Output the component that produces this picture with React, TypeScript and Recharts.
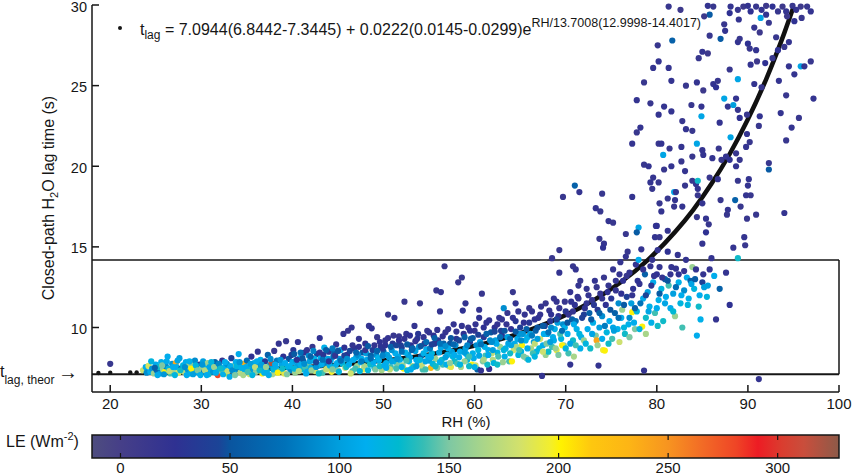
import React from "react";
import { ComposedChart, Scatter, Line, XAxis, YAxis, ReferenceLine } from "recharts";

const FONT = "'Liberation Sans', Arial, Helvetica, sans-serif";
const INK = "#161616";

const rhTicks = [20, 30, 40, 50, 60, 70, 80, 90, 100];
const lagTicks = [10, 15, 20, 25, 30];
const leTicks = [0, 50, 100, 150, 200, 250, 300];
const T_THEOR = 7.0944;

// fitted curve
const fitRH = [23.6, 26, 30, 34, 38, 42, 46, 50, 54, 58, 62, 66, 70, 73, 76, 79, 82, 84, 86, 88, 90, 92, 93, 94, 95];
const fitLag = [7.22, 7.24, 7.29, 7.36, 7.45, 7.57, 7.73, 7.95, 8.24, 8.63, 9.14, 9.84, 10.77, 11.67, 12.79, 14.18, 15.92, 17.3, 18.91, 20.76, 22.91, 25.39, 26.78, 28.27, 29.87];
// separate fit dots at the dry end
const fitDotRH = [18.7, 20, 22.2, 22.9];
const fitDotLag = [7.18, 7.19, 7.21, 7.21];

// [RH %, lag s, LE W m-2]
const dryBand: number[][] = [
  [20.0,7.75,15],[23.6,7.35,180],[23.9,7.55,110],[24.0,7.2,90],
  [24.2,7.62,185],[24.4,7.25,110],[24.6,7.45,95],[24.8,7.15,160],[25.0,7.7,110],[25.1,7.35,70],[25.3,7.55,130],[25.5,7.15,100],
  [25.6,7.85,115],[25.8,7.4,160],[26.0,7.25,200],[26.1,7.6,85],[26.3,8.2,110],[26.4,7.45,120],[26.6,7.15,140],[26.8,7.75,95],
  [27.0,7.35,160],[27.2,7.8,240],[27.3,7.55,110],[27.5,7.2,185],[27.6,8.1,100],[27.8,7.45,60],[28.0,7.65,120],[28.1,7.25,170],
  [28.3,7.85,110],[28.5,7.4,95],[28.6,7.6,165],[28.8,7.15,120],[29.0,7.75,150],[29.2,7.35,105],[29.3,7.95,90],[29.5,7.55,175],
  [29.7,7.2,110],[29.8,7.7,30],[30.0,7.45,160],[30.2,7.9,100],[30.3,7.25,80],[30.5,7.6,115],[30.7,7.8,160],[30.8,7.1,130],
  [31.0,7.4,110],[31.2,7.65,190],[31.3,7.25,95],[31.5,7.85,60],[31.7,7.45,130],[31.8,7.05,280],[32.0,7.6,105],[32.2,7.3,150],
  [32.3,7.95,20],[32.5,7.5,115],[32.7,7.15,200],[32.8,7.75,90],[33.0,7.4,120],[33.1,6.95,110],[33.3,8.1,40],[33.5,7.6,165],
  [33.6,7.25,105],[33.8,7.85,110],[34.0,7.45,85],[34.1,8.35,110],[34.3,7.2,170],[34.5,7.7,30],[34.7,7.75,235],[34.8,7.35,115],
  [35.0,7.95,70],[35.2,7.55,130],[35.3,7.1,180],[35.5,8.2,25],[35.7,7.4,100],[35.8,7.8,115],[36.0,7.25,155],[36.2,8.5,20],
  [36.3,7.6,90],[36.5,8.0,115],[36.7,7.15,200],[36.8,7.45,105],[37.0,7.9,30],[37.2,7.3,120],[37.3,8.3,60],[37.5,7.65,95],
  [37.7,7.8,320],[37.8,7.1,165],[38.0,8.55,15],[38.2,7.5,110],[38.3,7.95,80],[38.5,9.0,20],[38.6,7.3,140],[38.8,7.7,105],
  [39.0,8.2,25],[39.1,7.15,190],[39.3,9.15,15],[39.5,7.55,120],[39.6,8.05,50],[39.8,7.35,90],[40.0,7.85,110],[40.1,8.6,30],
  [40.3,7.2,160],[40.5,7.6,100],[40.6,9.1,20],[40.8,8.1,115],[41.0,7.4,130],[41.2,7.9,60],[41.3,8.45,25],[41.5,7.15,110],
  [41.7,7.7,155],[41.8,8.25,90],[42.0,7.5,115],[42.2,8.8,15],[42.3,7.95,100],[42.5,7.3,180],[42.7,8.35,40],[42.8,7.65,120],
  [43.0,9.35,25],[43.1,8.1,110],[43.3,7.2,140],[43.5,8.75,115],[43.6,7.8,85],[43.8,7.45,160],[44.0,8.5,30],[44.2,7.95,105],
  [44.3,7.25,195],[44.5,8.2,65],[44.7,7.6,115],[44.8,8.95,20],[45.0,7.35,150],[45.2,8.05,95],[45.3,8.6,110],[45.5,7.75,120],
  [45.6,9.6,20],[45.8,7.5,175],[46.0,8.3,25],[46.1,9.8,15],[46.3,7.9,110],[46.5,10.0,20],[46.6,7.3,140],[46.8,8.7,30],
  [47.0,8.15,100],[47.1,7.6,160],[47.3,9.3,20],[47.5,7.85,115],[47.7,8.45,50],[47.8,7.4,190],[48.0,9.0,25],[48.2,8.0,105],
  [48.4,10.1,20],[48.5,7.7,130],[48.7,9.95,25],[48.8,8.6,40],[49.0,7.5,120],[49.2,8.3,90],[49.3,9.4,15],[49.5,7.95,110],
  [49.7,8.8,25],[49.8,7.35,165],[50.0,8.5,60],[50.2,9.2,20],[50.3,7.8,115],[50.5,10.8,15],[50.6,8.15,100],[50.8,7.55,140],
  [51.0,9.0,30],[51.2,10.6,20],[51.3,8.4,110],[51.5,7.7,150],[51.7,9.45,15],[51.8,8.0,115],[52.0,8.75,40],[52.3,11.6,15],
  [52.2,7.45,200],[52.5,9.6,20],[52.7,8.3,95],[52.8,7.9,120],[53.0,8.9,25],[53.2,7.6,165],[53.4,10.1,20],[53.5,8.55,105],
  [53.7,9.3,30],[53.8,7.8,115],[54.0,11.5,15],[54.1,8.2,60],[54.3,7.4,140],[54.5,9.0,20],[54.7,8.65,110],[54.8,9.8,15],
  [55.0,7.95,100],[55.2,7.5,230],[55.3,8.4,120],[55.5,9.5,25],[55.7,8.05,160],[55.8,12.3,15],[56.0,9.2,30],[56.2,11.0,20],
  [56.3,8.75,105],[56.3,12.2,20],[56.5,7.7,140],[56.7,13.8,15],[56.8,9.7,20],[57.0,8.3,115],[57.2,7.6,180],[57.3,9.0,50],
  [57.5,8.5,100],[57.7,10.2,20],[57.8,7.9,130],[58.0,9.3,30],[58.2,12.8,15],[58.3,8.15,110],[58.5,7.55,165],[58.6,13.1,15],
  [58.7,11.05,25],[58.8,9.6,25],[59.0,11.5,20],[59.0,8.7,105],[59.2,8.0,120],[59.3,10.0,15],[59.5,9.1,40],[59.7,7.7,200],
  [59.8,8.4,115],[60.0,9.8,20],[60.2,8.9,90],[60.3,7.4,60],[60.5,11.1,20],[60.5,10.6,25],[60.7,7.33,20],[60.8,12.1,15],
  [61.0,9.4,30],[61.2,8.25,140],[61.3,10.3,20],[61.5,8.6,110],[61.6,7.43,20],[61.8,9.7,50],[62.0,8.0,170],[62.2,10.0,25],
  [62.3,9.2,100],[62.5,8.45,120],[62.7,10.6,20],[62.8,8.8,160],[63.0,9.5,30],[63.2,11.2,90],[63.3,8.2,115],[63.5,10.2,20],
  [63.7,9.0,105],[63.8,7.9,140],[64.0,9.9,25],[64.2,12.2,15],[64.3,8.6,180],[64.5,11.5,20],[64.5,10.4,30],[64.7,9.3,110],
  [64.8,8.3,120],[65.0,10.0,40],[65.2,8.9,200],[65.3,9.6,95],[65.5,10.8,20],[65.7,8.1,150],[65.8,9.4,115],[66.0,10.3,30],
  [66.2,8.7,165],[66.3,11.0,20],[66.5,9.1,100],[66.7,9.8,60],[66.8,8.5,120],[67.0,10.6,25],[67.2,9.3,180],[67.4,7.0,20],
  [67.3,11.3,20],[67.5,8.9,110],[67.7,10.1,40],[67.8,8.3,160],[68.0,9.6,105],[68.2,11.05,20],[68.3,10.4,30],[68.5,14.3,15],
  [68.5,8.8,140],[68.7,11.8,20],[68.8,9.9,115],[69.0,11.6,20],[69.0,8.6,195],[69.2,10.7,25],[69.3,14.8,15],[69.3,13.4,20],
  [69.5,9.3,120],[69.7,10.2,90],[69.8,8.9,160],[70.0,11.0,30],[70.2,9.6,110],[70.3,8.4,140],[70.5,12.2,20],[70.5,7.7,20],
  [70.7,10.5,60],[70.8,13.8,15],[70.8,9.2,130],[71.0,11.4,25],[71.1,13.6,20],[71.2,9.9,115],[71.4,12.6,20],
];

const bandFill: number[][] = [
  [24.5,7.9,120],[24.9,7.5,60],[25.2,7.05,110],[25.7,7.65,150],[25.9,7.1,95],[26.2,7.9,110],[26.5,7.3,175],[26.9,7.55,110],
  [27.1,7.05,120],[27.4,7.95,105],[27.7,7.35,130],[28.2,7.55,90],[28.4,7.05,110],[28.7,7.9,115],[28.9,7.45,200],[29.1,7.1,100],
  [29.4,7.65,120],[29.6,7.35,150],[29.9,7.05,115],[30.1,7.7,95],[30.4,7.35,170],[30.6,7.05,110],[30.9,7.55,105],[31.1,7.85,120],
  [31.4,7.55,160],[31.6,7.2,110],[31.9,7.75,85],[32.1,7.45,130],[32.4,7.1,115],[32.6,7.85,110],[32.9,7.3,175],[33.2,7.6,110],
  [33.4,7.35,90],[33.7,7.05,150],[33.9,7.6,120],[34.2,7.85,95],[34.4,7.5,115],[34.6,7.05,165],[34.9,7.55,110],[35.1,7.25,140],
  [35.4,7.75,100],[35.6,7.05,120],[35.9,7.55,175],[36.1,7.9,110],[36.4,7.35,130],[36.6,7.7,100],[36.9,7.2,115],[37.1,7.55,160],
  [37.4,7.05,110],[37.6,8.05,90],[37.9,7.4,120],[38.1,7.7,110],[38.4,7.2,200],[38.7,8.0,95],[38.9,7.45,130],[39.2,7.8,110],
  [39.4,7.1,150],[39.7,7.6,115],[39.9,8.3,40],[40.2,7.45,120],[40.4,7.95,95],[40.7,7.3,170],[40.9,7.7,110],[41.1,8.1,50],
  [41.4,7.55,140],[41.6,7.25,110],[41.9,7.9,100],[42.1,7.35,160],[42.4,8.05,115],[42.6,7.55,95],[42.9,7.15,130],[43.2,7.7,110],
  [43.4,8.3,30],[43.7,7.4,175],[43.9,8.05,100],[44.1,7.65,115],[44.4,7.4,150],[44.6,8.4,60],[44.9,7.8,110],[45.1,7.25,120],
  [45.4,7.95,95],[45.7,8.25,40],[45.9,7.55,130],[46.2,7.7,110],[46.4,7.15,180],[46.7,8.0,110],[46.9,7.45,140],[47.2,8.3,90],
  [47.4,7.3,120],[47.6,8.05,110],[47.9,7.6,165],[48.1,8.4,100],[48.3,7.35,120],[48.6,8.25,60],[48.9,7.85,110],[49.1,7.4,150],
  [49.4,8.1,115],[49.6,7.6,130],[49.9,8.7,30],[50.1,7.65,110],[50.4,8.3,100],[50.7,7.4,175],[50.9,8.6,95],[51.1,7.9,120],
  [51.4,7.45,140],[51.6,8.2,110],[51.9,8.9,40],[52.1,7.65,160],[52.4,8.45,115],[52.6,7.35,120],[52.9,8.15,105],[53.1,8.6,60],
  [53.3,7.55,130],[53.6,8.0,110],[53.9,8.8,90],[54.2,7.65,175],[54.4,8.4,115],[54.6,7.4,140],[54.9,8.2,110],[55.1,8.7,80],
  [55.4,7.75,120],[55.6,9.0,30],[55.9,7.5,150],[56.1,8.45,100],[56.4,8.0,130],[56.6,9.0,60],[56.9,7.7,115],[57.1,8.7,110],
  [57.4,7.55,190],[57.6,8.2,120],[57.9,8.9,90],[58.1,7.75,140],[58.4,8.5,110],[58.9,7.9,160],[59.1,8.35,115],[59.4,7.6,130],
  [59.6,9.3,60],[59.9,8.1,110],[60.1,7.65,180],[60.4,8.6,120],[60.6,9.1,100],[60.9,7.9,150],[61.1,8.8,115],[61.4,7.7,130],
  [61.7,9.2,90],[61.9,8.4,175],[62.1,7.8,120],[62.4,9.0,110],[62.6,8.2,140],[62.9,9.8,40],[63.1,7.85,160],[63.4,8.7,115],
  [63.6,9.4,100],[63.9,8.4,130],[64.1,7.9,200],[64.4,9.0,110],[64.6,8.8,165],[64.9,9.6,95],[65.1,8.5,120],[65.4,8.2,150],
  [65.6,9.2,115],[65.9,8.0,120],[66.1,9.6,100],[66.4,8.4,140],[66.6,9.0,175],[66.9,10.0,50],[67.1,8.7,120],[67.6,9.6,110],
  [67.9,9.0,150],[68.1,8.5,130],[68.4,10.0,90],[68.6,9.4,115],[68.9,8.7,160],[69.1,10.3,100],[69.4,9.6,140],[69.6,8.9,200],
  [69.9,10.0,115],
];

// the crowded middle of the band, darker on top
const bandCore: number[][] = [
  [40.2,8.35,55],[40.5,8.0,25],[40.9,8.45,70],[41.3,7.75,90],[41.6,8.6,20],[42.0,8.2,60],[42.3,8.55,85],[42.6,7.85,45],
  [43.0,8.45,20],[43.3,8.0,75],[43.7,8.6,55],[44.0,7.9,25],[44.4,8.7,80],[44.7,8.25,20],[45.0,8.55,50],[45.3,7.95,70],
  [45.7,8.75,25],[46.0,8.05,90],[46.3,8.55,45],[46.6,8.9,20],[47.0,8.45,65],[47.3,8.8,25],[47.6,7.9,80],[48.0,8.6,20],
  [48.3,8.85,55],[48.6,8.1,70],[49.0,8.9,20],[49.3,8.55,60],[49.6,9.1,25],[49.9,8.25,85],
  [50.2,8.9,25],[50.5,9.35,20],[50.8,8.8,60],[51.1,9.5,15],[51.4,8.9,45],[51.7,9.2,25],[52.0,8.5,75],[52.3,9.3,20],
  [52.6,8.95,55],[52.9,9.5,25],[53.2,8.7,65],[53.5,9.15,20],[53.8,9.6,30],[54.1,8.85,50],[54.4,9.4,20],[54.7,9.1,70],
  [55.0,9.7,20],[55.3,8.95,40],[55.6,9.35,60],[55.9,9.85,20],[56.2,9.0,75],[56.5,9.45,25],[56.8,8.85,90],[57.1,9.9,20],
  [57.4,9.35,50],[57.7,8.95,65],[58.0,9.75,20],[58.3,9.2,45],[58.6,10.1,20],[58.9,9.4,60],[59.2,8.9,85],[59.5,9.8,25],
  [59.8,9.35,55],[60.1,10.2,20],[60.4,9.55,40],[60.7,8.95,75],[61.0,10.0,25],[61.3,9.6,60],[61.6,10.45,20],[61.9,9.1,90],
  [62.2,9.75,45],[62.5,10.2,20],[62.8,9.4,70],
  [50.3,7.5,110],[50.9,7.9,105],[51.5,8.05,95],[52.0,7.55,115],[52.5,7.95,140],[53.0,7.4,110],[53.6,7.6,100],[54.0,8.0,120],
  [54.6,7.9,105],[55.2,8.15,110],[55.7,7.6,130],[56.2,7.85,115],[56.8,8.15,100],[57.3,7.8,155],[57.8,8.3,110],[58.4,7.7,120],
  [58.9,8.45,100],[59.4,8.2,140],[60.0,7.55,115],[60.5,8.25,105],[61.0,8.0,165],[61.5,8.3,110],[62.0,8.6,100],[62.5,7.7,130],
  [63.0,10.5,20],[63.3,9.8,50],[63.6,10.9,15],[63.9,9.3,75],[64.2,10.6,25],[64.5,9.75,55],[64.8,11.0,20],[65.1,9.2,90],
  [65.4,10.3,25],[65.7,9.9,60],[66.0,11.2,15],[66.3,9.5,80],[66.6,10.5,25],[66.9,9.3,100],[67.2,10.8,20],[67.5,10.1,55],
  [67.8,11.5,15],[68.1,9.7,75],[68.4,10.8,25],[68.7,9.2,110],[69.0,10.5,45],[69.3,11.2,20],[69.6,9.8,70],[69.9,11.6,15],
  [70.2,10.3,50],[70.5,9.0,105],[70.8,11.0,20],[71.1,10.4,70],[71.4,11.8,15],[71.7,9.4,115],[72.0,10.8,40],[72.3,11.5,20],
  [63.2,8.6,120],[64.0,8.9,105],[64.9,8.6,140],[65.8,8.7,110],[66.6,8.2,120],[67.5,8.5,180],[68.3,9.1,100],[69.2,8.3,150],
  [70.0,8.7,120],[70.9,8.2,165],[71.6,8.7,115],
];

const humidBox: number[][] = [
  [70.3,10.8,20],[70.6,11.6,25],[70.9,10.2,110],[71.1,8.9,140],[71.3,11.9,20],[71.5,9.6,120],[71.6,12.9,15],[71.8,10.6,40],
  [72.0,9.2,160],[72.1,11.2,25],[72.3,12.4,20],[72.4,9.9,110],[72.6,10.9,60],[72.7,8.7,130],[72.9,11.7,20],[73.0,10.3,115],
  [73.2,12.9,20],[73.3,9.5,150],[73.4,9.2,240],[73.5,11.1,30],[73.6,7.64,20],[73.7,10.0,100],[73.8,12.1,20],[74.0,10.7,90],
  [74.1,8.6,195],[74.2,13.1,15],[74.3,8.57,200],[74.4,11.4,25],[74.5,9.7,120],[74.7,12.6,20],[74.8,10.4,110],[75.0,11.8,30],
  [75.1,9.3,140],[75.2,13.6,20],[75.4,10.9,60],[75.5,12.3,20],[75.7,9.9,115],[75.8,11.5,90],[75.9,13.3,20],[76.0,14.05,20],
  [76.1,10.6,110],[76.2,11.1,160],[76.3,12.9,25],[76.5,9.6,130],[76.6,14.4,20],[76.7,11.9,40],[76.8,14.7,15],[76.9,10.2,115],
  [77.0,13.4,20],[77.2,11.5,100],[77.3,10.95,200],[77.4,12.4,25],[77.6,9.9,150],[77.7,13.9,20],[77.8,11.0,120],[78.0,14.2,110],
  [78.1,12.7,20],[78.3,14.85,20],[78.4,10.06,200],[78.5,11.8,110],[78.6,7.33,20],[78.7,13.3,60],[78.8,10.6,130],[79.0,12.2,100],
  [79.2,11.3,115],[79.3,13.8,20],[79.5,14.2,20],[79.6,12.8,110],[79.8,10.9,140],[80.0,13.3,25],[80.1,14.8,20],[80.2,11.7,115],
  [80.3,13.75,20],[80.5,12.4,120],[80.7,10.4,130],[80.9,13.0,60],[81.0,11.9,110],[81.2,14.7,25],[81.3,12.6,140],[81.5,11.2,110],
  [81.6,13.75,20],[81.8,12.1,100],[82.0,10.7,160],[82.1,13.65,20],[82.3,14.5,20],[82.4,12.8,115],[82.6,11.5,120],[82.8,10.0,140],
  [83.0,12.3,90],[83.2,14.2,20],[83.3,13.1,110],[83.5,11.8,115],[83.7,12.9,60],[83.9,13.75,160],[84.1,12.4,120],[84.3,13.6,20],
  [84.4,9.5,110],[84.6,11.3,130],[84.8,10.5,115],[85.0,12.8,40],[85.2,12.5,100],[85.5,11.9,120],[85.8,13.6,20],[86.0,14.3,20],
  [86.3,13.2,110],[86.5,10.5,20],[86.9,12.4,60],[87.6,13.4,20],[88.0,11.4,25],[88.9,14.3,130],[91.2,6.8,20],
  [72.5,12.0,20],[72.8,10.5,55],[73.1,11.4,30],[73.4,12.5,15],[73.7,10.9,60],[74.0,11.8,20],[74.3,10.1,80],[74.6,12.2,25],
  [74.9,11.1,50],[75.2,10.0,105],[75.5,12.9,20],[75.8,10.6,70],[76.1,12.1,25],[76.4,11.4,55],[76.7,13.2,15],[77.0,10.6,90],
  [77.3,12.0,20],[77.6,11.2,60],[77.9,12.9,25],[78.2,11.5,75],[78.5,13.6,20],[78.8,12.0,45],[79.1,11.0,105],[79.4,12.6,30],
  [79.7,13.2,20],[80.0,11.2,110],[80.3,12.1,55],[80.6,13.1,20],[80.9,11.5,105],[81.2,12.9,50],[81.5,13.3,20],[81.8,11.0,125],
  [82.1,12.5,70],[82.4,13.3,25],[82.7,12.0,110],[83.0,13.5,20],[83.4,11.4,120],[83.8,12.7,105],[84.2,13.0,55],[84.7,12.0,110],
  [85.1,13.3,20],[85.6,12.6,100],
  [72.2,9.0,120],[72.9,9.6,105],[73.5,8.9,160],[74.0,9.3,110],[74.7,9.0,130],[75.3,9.8,100],[75.9,9.1,180],[76.4,10.0,120],
  [77.0,9.4,150],[77.5,10.3,110],[78.1,9.9,120],[78.8,9.6,165],[79.4,10.3,115],[80.1,10.1,130],
];

const steepMid: number[][] = [
  [69.7,18.1,15],[71.0,18.8,60],[71.5,18.4,20],[74.0,18.3,15],[73.3,17.4,20],[73.8,17.2,15],[74.7,16.6,20],[75.2,16.5,15],
  [77.3,18.1,20],[73.7,15.5,15],[74.2,15.2,20],[74.1,14.95,25],[76.6,15.8,15],[78.0,16.2,105],[77.8,15.9,55],[79.9,16.3,15],
  [79.8,15.6,20],[79.3,19.0,20],[79.5,18.6,15],[77.3,21.4,20],[77.8,22.1,15],[78.2,22.4,20],[80.2,21.4,15],[77.8,24.1,20],
  [79.3,23.9,15],[80.2,23.2,20],[78.6,25.2,15],[79.6,26.1,20],[80.1,27.5,15],[80.2,26.5,20],[78.6,20.1,15],[79.1,20.0,20],
  [80.3,17.7,15],[80.5,17.2,20],[80.0,16.3,25],[80.3,15.6,15],[81.2,16.0,20],[82.0,17.9,20],[81.9,17.5,15],[82.8,17.5,20],
  [83.1,18.8,15],[84.3,18.9,20],[84.5,18.2,15],[85.0,17.7,20],[84.4,16.85,15],[85.4,16.75,20],[85.7,16.4,15],[85.4,15.9,25],
  [85.0,15.2,20],[87.0,17.9,15],[87.8,17.3,20],[87.7,17.0,15],[88.6,17.9,60],[89.8,18.2,20],[89.2,17.5,15],[90.1,19.2,20],
  [89.9,16.75,15],[89.6,15.6,20],[89.7,15.1,15],[88.4,14.95,20],[92.3,20.2,15],[94.0,17.1,20],[90.9,17.0,15],
];

const steepTop: number[][] = [
  [81.3,29.9,15],[82.6,29.7,10],[85.6,29.95,20],[86.2,29.9,15],[85.8,29.4,55],[85.2,29.3,10],[88.1,29.9,20],[88.0,29.5,25],
  [88.9,29.7,15],[89.5,29.9,10],[90.0,29.95,20],[90.3,29.6,25],[90.9,29.9,15],[91.5,29.7,20],[92.0,29.95,10],[91.4,29.2,105],
  [92.0,29.4,20],[92.3,28.9,15],[92.7,29.9,25],[93.3,29.6,15],[93.8,29.9,10],[94.2,29.6,20],[94.9,29.95,15],[95.3,29.7,20],
  [95.8,29.9,10],[96.5,29.9,15],[96.9,29.6,20],[95.9,29.2,15],[95.1,29.0,25],[94.3,29.3,10],[89.0,29.1,20],[87.4,28.8,15],
  [87.5,28.4,20],[85.8,28.1,15],[81.7,27.8,60],[87.0,27.9,55],[88.9,27.7,20],[89.1,27.9,15],[90.0,27.6,25],[90.2,27.3,15],
  [90.9,27.2,20],[91.3,28.3,10],[90.7,28.6,20],[93.1,28.0,15],[94.5,27.7,20],[94.0,27.4,15],[93.3,27.2,25],[85.0,27.1,20],
  [84.6,26.7,15],[85.6,27.0,10],[81.3,26.1,20],[88.0,26.0,15],[90.3,26.3,20],[91.0,26.5,10],[91.9,26.4,25],[92.7,26.7,15],
  [94.5,26.2,20],[95.8,26.2,105],[96.2,26.2,20],[96.9,26.5,15],[95.1,25.7,20],[81.6,25.3,20],[83.2,25.0,15],[84.4,25.2,20],
  [85.1,24.7,10],[86.2,25.1,20],[86.7,25.3,15],[86.5,24.9,25],[88.9,25.4,105],[90.7,25.1,20],[91.5,24.9,15],[93.4,25.3,20],
  [94.2,24.4,15],[97.2,24.2,20],[80.8,23.7,20],[81.6,23.4,20],[83.8,23.8,15],[84.9,23.7,20],[84.9,23.1,105],[87.4,24.2,105],
  [87.8,23.7,20],[88.4,23.8,100],[88.9,23.5,15],[88.7,24.2,20],[89.1,23.0,25],[89.9,23.2,15],[91.3,23.1,20],[91.2,22.5,15],
  [93.6,23.3,20],[95.6,23.0,15],[94.8,22.4,20],[94.2,21.6,15],[82.8,22.8,15],[83.2,22.3,20],[83.9,22.2,15],[86.9,22.7,20],
  [88.1,21.8,105],[89.9,22.0,20],[90.2,21.5,15],[80.5,21.4,20],[81.4,21.1,15],[82.7,21.2,20],[84.4,21.4,105],[85.0,21.0,20],
  [86.8,21.1,15],[85.1,20.7,20],[83.9,20.6,15],[80.7,20.7,105],[86.1,20.5,20],[87.1,20.4,15],[87.6,20.6,20],[88.0,20.4,25],
  [88.7,20.8,15],[88.7,20.0,20],[89.1,20.4,15],[89.8,21.2,20],[92.3,19.8,55],[80.8,19.8,15],[81.6,20.0,20],[82.7,20.3,15],
  [83.1,19.7,20],[83.9,19.1,15],[84.5,19.1,130],[84.5,18.6,20],[85.8,19.3,15],[86.7,19.2,20],[88.9,19.1,15],[90.0,18.8,20],
  [90.3,18.2,15],[79.6,19.3,20],[80.2,19.0,15],[81.9,18.4,105],[82.1,18.4,20],[81.2,18.0,15],
];

const LE_MIN = -13;
const LE_MAX = 328;
const leStops: [number, string][] = [
  [-13, "#4e4d7f"], [0, "#463f88"], [25, "#2f3192"], [45, "#1b4497"], [50, "#0a559f"], [75, "#0072b9"],
  [100, "#009fde"], [112, "#00aeef"], [127, "#00b9cf"], [138, "#35bdb5"], [150, "#7ec8a3"], [165, "#a8d58a"],
  [182, "#d2e16c"], [196, "#f2ee2e"], [201, "#fff200"], [215, "#fec70f"], [232, "#fdb515"], [250, "#f79420"],
  [266, "#f26a26"], [281, "#ef4526"], [291, "#ed1c24"], [302, "#da3d2f"], [312, "#c94e3c"], [328, "#8d5a48"],
];

function hexRgb(h: string) {
  return [1, 3, 5].map((i) => parseInt(h.slice(i, i + 2), 16));
}

function leColor(v: number) {
  const x = Math.max(LE_MIN, Math.min(LE_MAX, v));
  for (let i = 1; i < leStops.length; i++) {
    const [v1, c1] = leStops[i];
    if (x <= v1) {
      const [v0, c0] = leStops[i - 1];
      const t = (x - v0) / (v1 - v0);
      const a = hexRgb(c0);
      const b = hexRgb(c1);
      const m = a.map((q, k) => Math.round(q + (b[k] - q) * t));
      return `rgb(${m[0]},${m[1]},${m[2]})`;
    }
  }
  return leStops[leStops.length - 1][1];
}

const toPoints = (rows: number[][]) => rows.map(([rh, lag, le]) => ({ rh, lag, le }));
const points = [
  ...toPoints(dryBand),
  ...toPoints(bandFill),
  ...toPoints(bandCore),
  ...toPoints(humidBox),
  ...toPoints(steepMid),
  ...toPoints(steepTop),
];
const fitData = fitRH.map((rh, i) => ({ rh, lag: fitLag[i] }));
const fitDots = fitDotRH.map((rh, i) => ({ rh, lag: fitDotLag[i] }));

const Dot = (p: any) => <circle cx={p.cx} cy={p.cy} r={3.1} fill={leColor(p.payload.le)} />;
const FitDot = (p: any) => <circle cx={p.cx} cy={p.cy} r={2.2} fill={INK} />;

const XTick = (p: any) => (
  <g>
    <line x1={p.x} x2={p.x} y1={p.y} y2={p.y - 7} stroke={INK} strokeWidth={1.5} />
    <text x={p.x} y={p.y + 16.5} textAnchor="middle" fontSize={15} fontFamily={FONT} fill={INK}>
      {p.payload.value}
    </text>
  </g>
);

const YTick = (p: any) => (
  <g>
    <line x1={p.x} x2={p.x + 7} y1={p.y} y2={p.y} stroke={INK} strokeWidth={1.5} />
    <text x={p.x - 5} y={p.y + 6.5} textAnchor="end" fontSize={14.5} fontFamily={FONT} fill={INK}>
      {p.payload.value}
    </text>
  </g>
);

// colour bar geometry
const CB_X = 92;
const CB_W = 747;
const CB_Y = 435;
const CB_H = 23;
const cbX = (v: number) => CB_X + ((v - LE_MIN) / (LE_MAX - LE_MIN)) * CB_W;

export default function App() {
  return (
    <div style={{ position: "absolute", left: 0, top: 0, width: 852, height: 476, background: "#fff" }}>
      <ComposedChart width={852} height={476} margin={{ top: 5, right: 13, bottom: 54, left: 52 }}>
        <XAxis
          type="number"
          dataKey="rh"
          domain={[18, 100]}
          ticks={rhTicks}
          interval={0}
          height={30}
          tickSize={0}
          tickMargin={0}
          tickLine={false}
          axisLine={{ stroke: INK, strokeWidth: 1.5 }}
          tick={<XTick />}
        />
        <YAxis
          type="number"
          dataKey="lag"
          domain={[6, 30]}
          ticks={lagTicks}
          interval={0}
          width={40}
          tickSize={0}
          tickMargin={0}
          tickLine={false}
          axisLine={{ stroke: INK, strokeWidth: 1.5 }}
          tick={<YTick />}
        />
        <ReferenceLine y={T_THEOR * 2} stroke={INK} strokeWidth={1.5} />
        <ReferenceLine
          segment={[{ x: 100, y: T_THEOR }, { x: 100, y: T_THEOR * 2 }]}
          stroke={INK}
          strokeWidth={1.5}
        />
        <Scatter data={points} dataKey="lag" shape={<Dot />} isAnimationActive={false} />
        <ReferenceLine y={T_THEOR} stroke={INK} strokeWidth={2} />
        <Line
          data={fitData}
          dataKey="lag"
          type="monotone"
          stroke="#111"
          strokeWidth={4.5}
          dot={false}
          activeDot={false}
          isAnimationActive={false}
        />
        <Scatter data={fitDots} dataKey="lag" shape={<FitDot />} isAnimationActive={false} />
      </ComposedChart>

      <svg
        width={852}
        height={476}
        style={{ position: "absolute", left: 0, top: 0, pointerEvents: "none" }}
        fontFamily={FONT}
        fill={INK}
      >
        <circle cx={120} cy={28} r={2} fill={INK} />
        <text x={140} y={35} fontSize={16}>
          t<tspan fontSize={12} dy={4}>lag</tspan>
          <tspan dy={-4}> = 7.0944(6.8442-7.3445) + 0.0222(0.0145-0.0299)e</tspan>
          <tspan fontSize={12.5} dy={-8}>RH/13.7008(12.9998-14.4017)</tspan>
        </text>

        <text transform="translate(54,198) rotate(-90)" textAnchor="middle" fontSize={16}>
          Closed-path H<tspan fontSize={11} dy={4}>2</tspan>
          <tspan dy={-4}>O lag time (s)</tspan>
        </text>

        <text x={0} y={377} fontSize={16}>
          t<tspan fontSize={12} dy={7}>lag, theor</tspan>
        </text>
        <text x={58} y={379} fontSize={20}>→</text>

        <text x={466} y={427} textAnchor="middle" fontSize={15}>RH (%)</text>

        <text x={6} y={447} fontSize={16}>
          LE (Wm<tspan fontSize={11} dy={-7}>-2</tspan>
          <tspan dy={7}>)</tspan>
        </text>

        <defs>
          <linearGradient id="leGrad" x1="0" x2="1" y1="0" y2="0">
            {leStops.map(([v, c]) => (
              <stop key={v} offset={(v - LE_MIN) / (LE_MAX - LE_MIN)} stopColor={c} />
            ))}
          </linearGradient>
        </defs>
        <rect x={CB_X} y={CB_Y} width={CB_W} height={CB_H} fill="url(#leGrad)" stroke={INK} strokeWidth={1.5} />
        {leTicks.map((v) => (
          <g key={v}>
            <line x1={cbX(v)} x2={cbX(v)} y1={CB_Y} y2={CB_Y + 5} stroke={INK} strokeWidth={1.2} />
            <line x1={cbX(v)} x2={cbX(v)} y1={CB_Y + CB_H - 5} y2={CB_Y + CB_H} stroke={INK} strokeWidth={1.2} />
            <text x={cbX(v)} y={473} textAnchor="middle" fontSize={15}>{v}</text>
          </g>
        ))}
      </svg>
    </div>
  );
}
